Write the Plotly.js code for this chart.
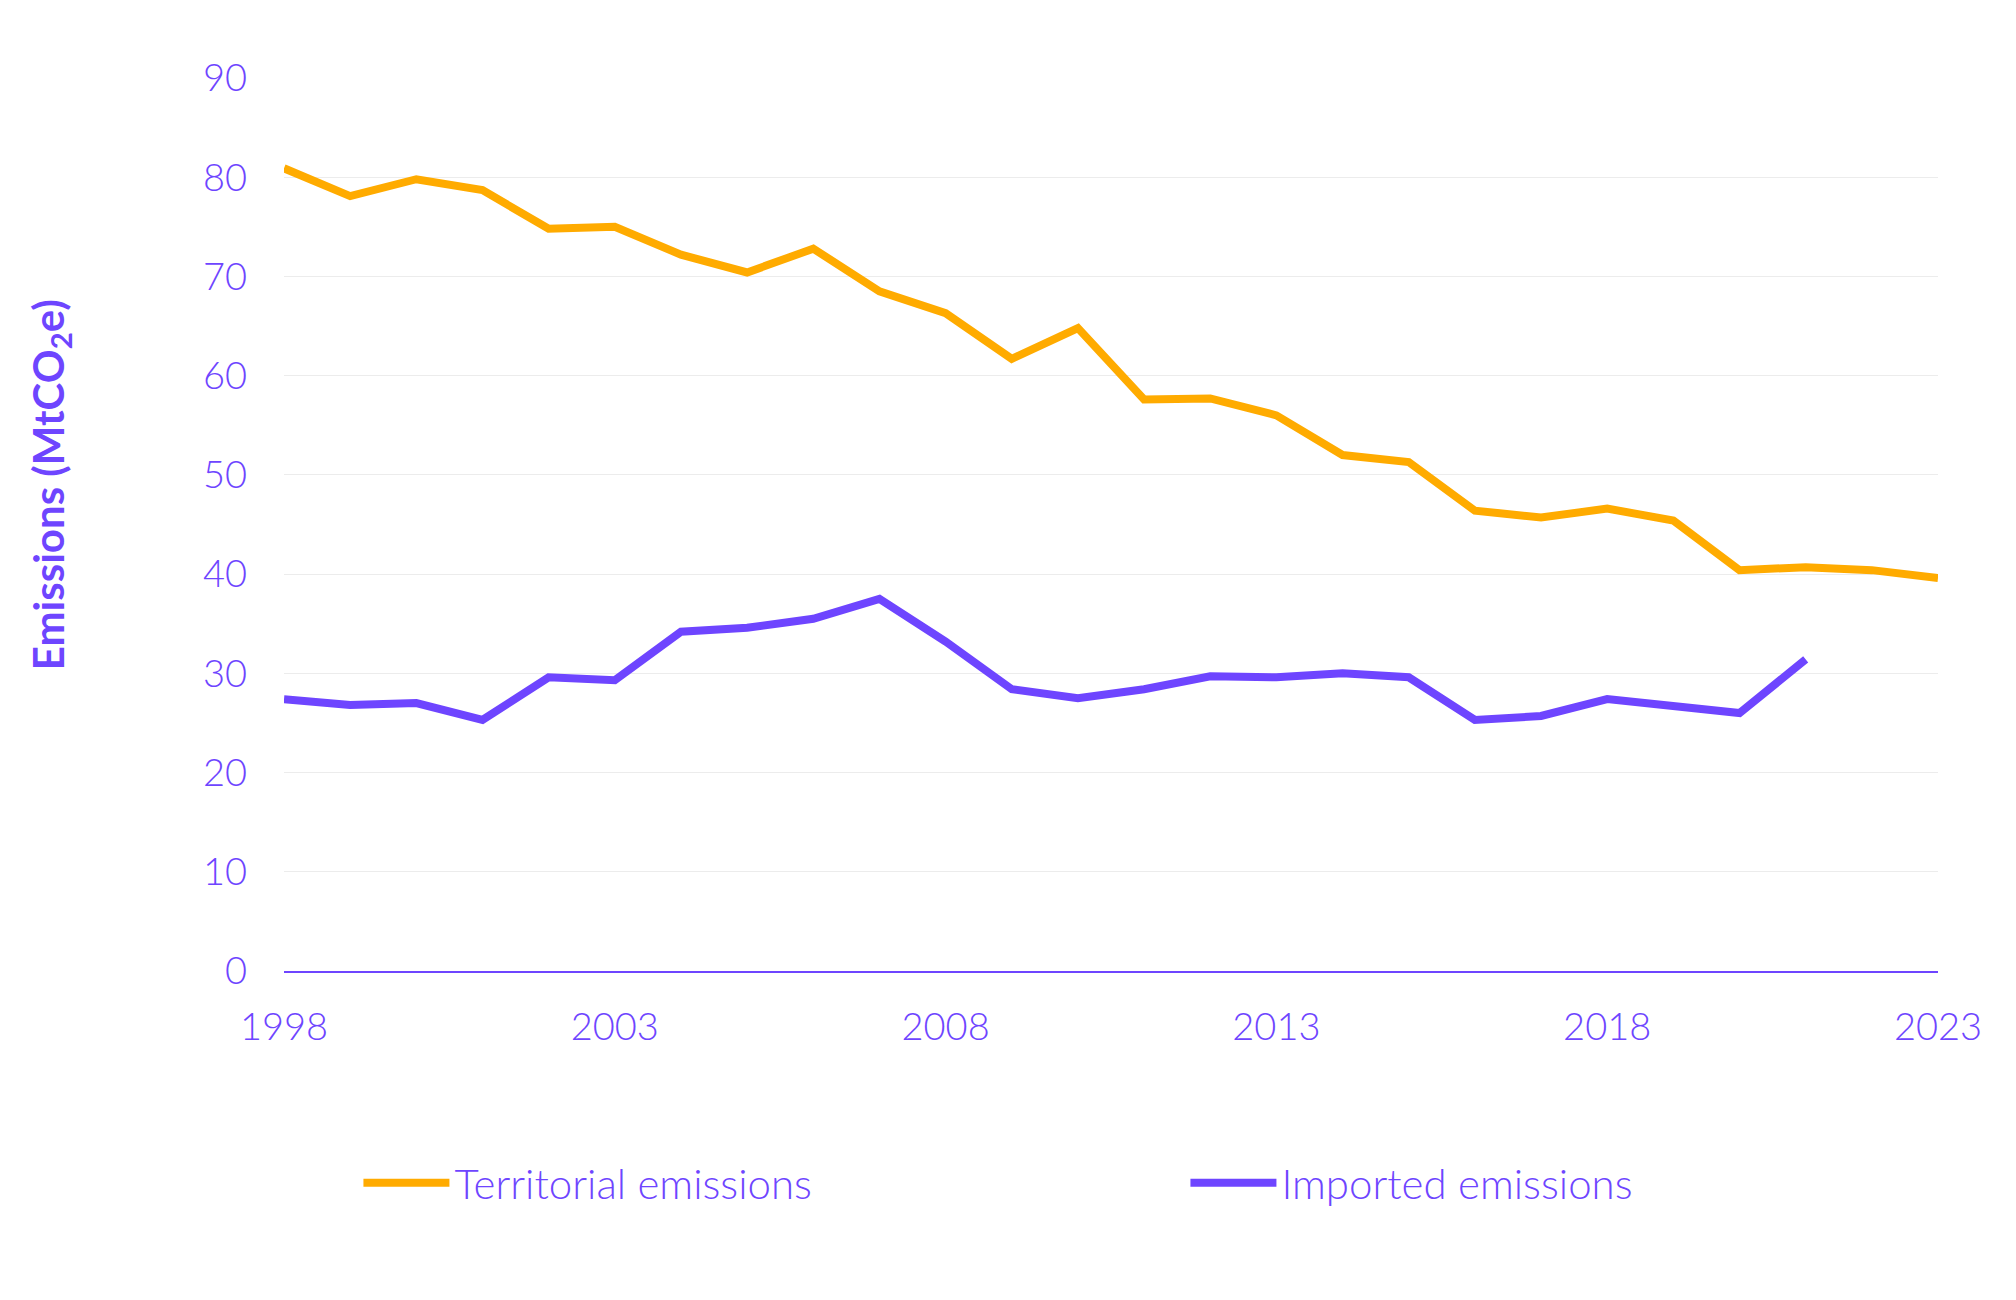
<!DOCTYPE html>
<html>
<head>
<meta charset="utf-8">
<script src="https://cdn.plot.ly/plotly-3.0.1.min.js"></script>
<style>html,body{margin:0;padding:0;background:#fff;}#chart{width:2016px;height:1300px;}</style>
</head>
<body>
<div id="chart"></div>
<script>
const years = [1998,1999,2000,2001,2002,2003,2004,2005,2006,2007,2008,2009,2010,2011,2012,2013,2014,2015,2016,2017,2018,2019,2020,2021,2022,2023];
const territorial = [80.9,78.1,79.8,78.7,74.8,75.0,72.2,70.4,72.8,68.5,66.3,61.7,64.8,57.6,57.7,56.0,52.0,51.3,46.4,45.7,46.6,45.4,40.4,40.7,40.4,39.6];
const importedYears = [1998,1999,2000,2001,2002,2003,2004,2005,2006,2007,2008,2009,2010,2011,2012,2013,2014,2015,2016,2017,2018,2019,2020,2021];
const imported = [27.4,26.8,27.0,25.3,29.6,29.3,34.2,34.6,35.5,37.5,33.2,28.4,27.5,28.4,29.7,29.6,30.0,29.6,25.3,25.7,27.4,26.7,26.0,31.4];
const seriesNames = ["Territorial emissions","Imported emissions"];
const xTicks = [1998,2003,2008,2013,2018,2023];
const yTicks = [0,10,20,30,40,50,60,70,80,90];
const yTitle = "Emissions (MtCO<sub>2</sub>e)";

const ORANGE = "#FFAB00";
const PURPLE = "#6E45FF";
const FONT = "Lato, 'Noto Sans', sans-serif";

const traces = [
  {x: years, y: territorial, name: seriesNames[0], type: "scatter", mode: "lines",
   line: {color: ORANGE, width: 8}, legend: "legend"},
  {x: importedYears, y: imported, name: seriesNames[1], type: "scatter", mode: "lines",
   line: {color: PURPLE, width: 8}, legend: "legend2"}
];

const legendFont = {family: FONT, size: 42, color: PURPLE, weight: 300};

const layout = {
  width: 2016, height: 1300,
  margin: {l: 284, r: 78, t: 78, b: 329},
  paper_bgcolor: "#fff", plot_bgcolor: "#fff",
  font: {family: FONT, color: PURPLE, size: 38, weight: 300},
  showlegend: true,
  legend: {orientation: "h", x: 0.045, xanchor: "left", y: -0.2374, yanchor: "middle",
           font: legendFont, bgcolor: "rgba(0,0,0,0)", itemwidth: 86},
  legend2: {orientation: "h", x: 0.545, xanchor: "left", y: -0.2374, yanchor: "middle",
           font: legendFont, bgcolor: "rgba(0,0,0,0)", itemwidth: 86},
  xaxis: {range: [1998, 2023], tickvals: xTicks, ticktext: xTicks.map(String),
          showgrid: false, zeroline: false, showline: true, linecolor: PURPLE, linewidth: 1.5,
          ticks: "", ticklabelstandoff: 22,
          tickfont: {family: FONT, size: 38, color: PURPLE, weight: 300}},
  yaxis: {range: [0, 90], tickvals: yTicks, ticktext: yTicks.map(String),
          showgrid: true, gridcolor: "#ececec", gridwidth: 1.2, zeroline: false, showline: false,
          ticks: "", ticklabelstandoff: 36,
          tickfont: {family: FONT, size: 38, color: PURPLE, weight: 300}},
  annotations: [
    {text: yTitle, xref: "paper", yref: "paper", x: -0.1409, y: 0.545,
     xanchor: "center", yanchor: "middle", textangle: -90, showarrow: false,
     font: {family: FONT, size: 42, color: PURPLE, weight: 700}}
  ]
};

Plotly.newPlot("chart", traces, layout, {displayModeBar: false, staticPlot: true});
</script>
</body>
</html>
